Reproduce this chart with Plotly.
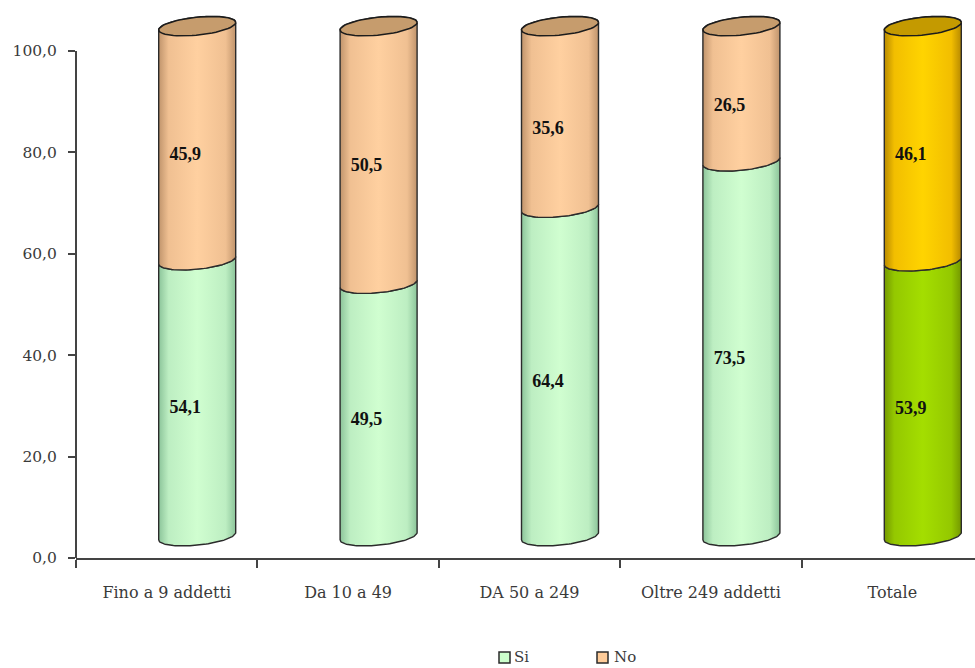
import numpy as np
import plotly.graph_objects as go

# Survey shares by company size (percent)
categories = ["Fino a 9 addetti", "Da 10 a 49", "DA 50 a 249", "Oltre 249 addetti", "Totale"]
si_values = [54.1, 49.5, 64.4, 73.5, 53.9]
no_values = [45.9, 50.5, 35.6, 26.5, 46.1]
y_ticks = [0, 20, 40, 60, 80, 100]
legend_names = ["Si", "No"]
legend_colours = ["#ccffcc", "#ffcc99"]

VALUE_FONT = "Liberation Serif"
SLAB = "DejaVu Serif"
LINE = "#2b2b2b"
AXIS = "#444444"
TEXT = "#3a3a3a"

# Page geometry in pixels
W, H = 975, 668
ML, MT, MB = 76, 4, 110
BAND_PX = 181.4
UNIT_PX = 5.07

# Cylinder geometry in axis units
HALF_W = 38.5 / BAND_PX
SHIFT_X = 30.5 / BAND_PX
RISE = 4.3
SLOPE = 1.006
ELL_B = 9 / UNIT_PX
ELL_TILT = 3.7 / UNIT_PX
LABEL_SHIFT_X = -12 / BAND_PX
LABEL_SHIFT_Y = 2.4


def shade(edge, mid, centre):
    return [[0, edge], [0.13, mid], [0.5, centre], [0.87, mid], [1, edge]]


GREEN = shade("#8cc49a", "#bdeec2", "#d0fed0")
ORANGE = shade("#c0946c", "#f0c092", "#ffd0a0")
ORANGE_CAP = "#c69c6d"
TOTAL_GREEN = shade("#749800", "#94c800", "#a4de00")
TOTAL_YELLOW = shade("#b88a00", "#f2be00", "#ffd400")
TOTAL_CAP = "#c49a00"


def arc(cx, level, t0, t1):
    t = np.linspace(t0, t1, 60)
    yc = RISE + SLOPE * level
    return cx + HALF_W * np.cos(t), yc + ELL_TILT * np.cos(t) + ELL_B * np.sin(t)


def piece(xs, ys, scale):
    return go.Scatter(
        x=np.append(xs, xs[0]), y=np.append(ys, ys[0]), mode="lines", fill="toself",
        fillgradient=dict(type="horizontal", colorscale=scale),
        line=dict(color=LINE, width=1.4), showlegend=False, hoverinfo="skip",
    )


fig = go.Figure()

for i, (si, no) in enumerate(zip(si_values, no_values)):
    cx = i + SHIFT_X
    is_total = categories[i] == "Totale"
    low_scale = TOTAL_GREEN if is_total else GREEN
    high_scale = TOTAL_YELLOW if is_total else ORANGE
    cap = TOTAL_CAP if is_total else ORANGE_CAP
    total = si + no

    # Lower segment: front arc at the base, front arc at the junction
    bx, by = arc(cx, 0, np.pi, 2 * np.pi)
    jx, jy = arc(cx, si, 2 * np.pi, np.pi)
    fig.add_trace(piece(np.r_[bx, jx], np.r_[by, jy], low_scale))

    # Upper segment: front arc at the junction, back arc at the top
    jx2, jy2 = arc(cx, si, np.pi, 2 * np.pi)
    tx, ty = arc(cx, total, 0, np.pi)
    fig.add_trace(piece(np.r_[jx2, tx], np.r_[jy2, ty], high_scale))

    # Open top of the cylinder
    ex, ey = arc(cx, total, 0, 2 * np.pi)
    fig.add_trace(go.Scatter(
        x=ex, y=ey, mode="lines", fill="toself", fillcolor=cap,
        line=dict(color="#1c1c1c", width=1.6), showlegend=False, hoverinfo="skip",
    ))

# Value labels inside each segment
label_x, label_y, label_text = [], [], []
for i, (si, no) in enumerate(zip(si_values, no_values)):
    for base, val in ((0, si), (si, no)):
        label_x.append(i + SHIFT_X + LABEL_SHIFT_X)
        label_y.append(base + val / 2 + LABEL_SHIFT_Y)
        label_text.append(f"{val:.1f}".replace(".", ","))

fig.add_trace(go.Scatter(
    x=label_x, y=label_y, text=label_text, mode="text",
    textfont=dict(family=VALUE_FONT, size=18, color="#111111", weight="bold"),
    textposition="middle center", showlegend=False, hoverinfo="skip",
))

plot_w = W - ML
plot_h = H - MB - MT
x_top = plot_w / BAND_PX - 0.5
y_top = plot_h / UNIT_PX

# Key below the plot: outlined swatch followed by the series name
legend_shapes, legend_notes = [], []
for name, colour, left in zip(legend_names, legend_colours, (499, 597)):
    legend_shapes.append(dict(
        type="rect", xref="paper", yref="paper",
        x0=(left - ML) / plot_w, x1=(left + 11 - ML) / plot_w,
        y0=(H - MB - 663) / plot_h, y1=(H - MB - 652) / plot_h,
        fillcolor=colour, line=dict(color=LINE, width=1.5),
    ))
    legend_notes.append(dict(
        text=name, xref="paper", yref="paper", showarrow=False,
        x=(left + (13 if name == "Si" else 15) - ML) / plot_w, xanchor="left",
        y=(H - MB - 657.5) / plot_h, yanchor="middle",
        font=dict(family=SLAB, size=15, color=TEXT),
    ))

fig.update_layout(
    width=W, height=H,
    margin=dict(l=ML, r=0, t=MT, b=MB, pad=0, autoexpand=False),
    paper_bgcolor="white", plot_bgcolor="white",
    separators=",.",
    font=dict(family=SLAB, color=TEXT),
    showlegend=False,
    xaxis=dict(
        range=[-0.5, x_top], showgrid=False, zeroline=False,
        showline=True, linecolor=AXIS, linewidth=2,
        tickmode="array", tickvals=list(range(len(categories))), ticktext=categories,
        ticks="", ticklabelstandoff=19, tickfont=dict(family=SLAB, size=16, color=TEXT),
        minor=dict(
            tickmode="array", tickvals=[i - 0.5 for i in range(len(categories) + 1)],
            ticks="outside", ticklen=8, tickwidth=1.5, tickcolor=AXIS, showgrid=False,
        ),
    ),
    yaxis=dict(
        range=[0, y_top], showgrid=False, zeroline=False, showline=False,
        tickmode="array", tickvals=y_ticks, tickformat=".1f",
        ticks="outside", ticklen=7, tickwidth=1.5, tickcolor=AXIS,
        ticklabelstandoff=8, tickfont=dict(family=SLAB, size=15.5, color=TEXT),
    ),
    shapes=[dict(
        type="line", xref="paper", x0=0, x1=0, yref="y", y0=0, y1=max(y_ticks),
        line=dict(color=AXIS, width=2),
    )] + legend_shapes,
    annotations=legend_notes,
)

fig.write_html("out.html", config={"displayModeBar": False})
